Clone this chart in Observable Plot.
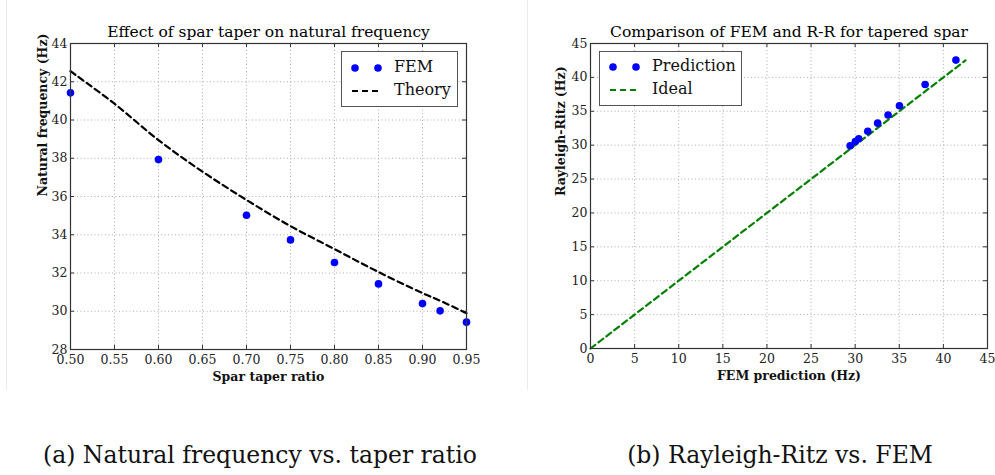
<!DOCTYPE html>
<html>
<head>
<meta charset="utf-8">
<script src="https://cdn.jsdelivr.net/npm/d3@7"></script>
<script src="https://cdn.jsdelivr.net/npm/@observablehq/plot@0.6"></script>
<style>
  html, body { margin: 0; padding: 0; background: #fff; }
  #page { position: relative; width: 995px; height: 475px; overflow: hidden; font-family: "DejaVu Serif", "Liberation Serif", serif; }
  .panel { position: absolute; top: 0; }
  .caption { position: absolute; font-size: 23.5px; color: #111; white-space: nowrap; transform: translate(-50%, -50%); }
  .edge { position: absolute; width: 1px; background: #ebebeb; }
  .legend { position: absolute; border: 1.3px solid #555; background: #fff; font-size: 16px; color: #111; }
  .legend .row { position: absolute; left: 0; white-space: nowrap; }
  .legend svg { position: absolute; }
</style>
</head>
<body>
<div id="page">
  <div class="edge" style="left:6px; top:0; height:390px"></div>
  <div class="edge" style="left:527px; top:0; height:390px"></div>
  <div class="panel" id="left" style="left:0"></div>
  <div class="panel" id="right" style="left:497px"></div>
  <div class="caption" style="left:260px; top:455px">(a) Natural frequency vs. taper ratio</div>
  <div class="caption" style="left:780px; top:455px">(b) Rayleigh-Ritz vs. FEM</div>
</div>
<script>
// ---- Data ----
const taper = [0.50, 0.60, 0.70, 0.75, 0.80, 0.85, 0.90, 0.92, 0.95];
const femFreq = [41.42, 37.93, 35.02, 33.73, 32.55, 31.43, 30.40, 30.02, 29.43];
const theoryTaper = [0.50, 0.55, 0.60, 0.65, 0.70, 0.75, 0.80, 0.85, 0.90, 0.92, 0.95];
const theoryFreq = [42.55, 40.85, 38.95, 37.30, 35.82, 34.45, 33.25, 32.05, 30.95, 30.55, 29.90];
const rrFreq = [42.55, 38.95, 35.82, 34.45, 33.25, 32.05, 30.95, 30.55, 29.90];
const idealRange = [0, 42.5];

const xTicksA = [0.50, 0.55, 0.60, 0.65, 0.70, 0.75, 0.80, 0.85, 0.90, 0.95];
const yTicksA = [28, 30, 32, 34, 36, 38, 40, 42, 44];
const ticksB = [0, 5, 10, 15, 20, 25, 30, 35, 40, 45];

const titleA = "Effect of spar taper on natural frequency";
const titleB = "Comparison of FEM and R-R for tapered spar";
const xLabelA = "Spar taper ratio";
const yLabelA = "Natural frequency (Hz)";
const xLabelB = "FEM prediction (Hz)";
const yLabelB = "Rayleigh-Ritz (Hz)";
const legendA = ["FEM", "Theory"];
const legendB = ["Prediction", "Ideal"];

// ---- Tables ----
const femTable = taper.map((t, i) => ({taper: t, freq: femFreq[i]}));
const theoryTable = theoryTaper.map((t, i) => ({taper: t, freq: theoryFreq[i]}));
const predTable = femFreq.map((f, i) => ({fem: f, rr: rrFreq[i]}));
const idealTable = idealRange.map(v => ({fem: v, rr: v}));

const FONT = "'DejaVu Serif', 'Liberation Serif', serif";
const BLUE = "#0000ff";
const GREEN = "#008000";
const GRID = {stroke: "#9a9a9a", strokeOpacity: 1, strokeWidth: 0.8, strokeDasharray: "1,2.5"};
const TICK = 4;

function chrome({W, H, ml, mr, mt, mb, xt, yt, xfmt, yfmt, title, xlab, ylab, ylabDx}) {
  const pw = W - ml - mr, ph = H - mt - mb;
  return [
    Plot.gridX(xt, {x: d => d, ...GRID}),
    Plot.gridY(yt, {y: d => d, ...GRID}),
    Plot.tickX(xt, {x: d => d, stroke: "#333", insetTop: ph - TICK}),
    Plot.tickX(xt, {x: d => d, stroke: "#333", insetBottom: ph - TICK}),
    Plot.tickY(yt, {y: d => d, stroke: "#333", insetLeft: pw - TICK}),
    Plot.tickY(yt, {y: d => d, stroke: "#333", insetRight: pw - TICK}),
    Plot.axisX(xt, {tickSize: 0, tickPadding: 6, tickFormat: xfmt, label: null, fontSize: 12.5, fill: "#222"}),
    Plot.axisY(yt, {tickSize: 0, tickPadding: 3, tickFormat: yfmt, label: null, fontSize: 12.5, fill: "#222"}),
    Plot.text([title], {frameAnchor: "top", dy: -11, fontSize: 15.5, fill: "#000", lineAnchor: "middle"}),
    Plot.text([xlab], {frameAnchor: "bottom", dy: 27, fontSize: 12.5, fontWeight: "bold", fill: "#111", lineAnchor: "middle"}),
    Plot.text([ylab], {frameAnchor: "left", dx: ylabDx, rotate: -90, fontSize: 12.5, fontWeight: "bold", fill: "#111", lineAnchor: "middle"})
  ];
}

// ---- Left chart ----
const WA = 497, HA = 395;
const left = Plot.plot({
  width: WA, height: HA,
  marginLeft: 70, marginRight: 31, marginTop: 43, marginBottom: 46,
  style: {fontFamily: FONT, background: "transparent", overflow: "visible"},
  x: {domain: [0.50, 0.95]},
  y: {domain: [28, 44]},
  marks: [
    ...chrome({W: WA, H: HA, ml: 70, mr: 31, mt: 43, mb: 46, xt: xTicksA, yt: yTicksA,
      xfmt: d3.format(".2f"), yfmt: d3.format("d"), title: titleA, xlab: xLabelA, ylab: yLabelA, ylabDx: -28}),
    Plot.line(theoryTable, {x: "taper", y: "freq", stroke: "#000", strokeWidth: 2.2, strokeDasharray: "6,4", curve: "catmull-rom"}),
    Plot.dot(femTable, {x: "taper", y: "freq", r: 3.8, fill: BLUE, stroke: "none", clip: false}),
    Plot.frame({stroke: "#333", strokeWidth: 1.2})
  ]
});
document.getElementById("left").append(left);

// ---- Right chart ----
const WB = 498, HB = 395;
const right = Plot.plot({
  width: WB, height: HB,
  marginLeft: 93, marginRight: 8, marginTop: 43, marginBottom: 47,
  style: {fontFamily: FONT, background: "transparent", overflow: "visible"},
  x: {domain: [0, 45]},
  y: {domain: [0, 45]},
  marks: [
    ...chrome({W: WB, H: HB, ml: 93, mr: 8, mt: 43, mb: 47, xt: ticksB, yt: ticksB,
      xfmt: d3.format("d"), yfmt: d3.format("d"), title: titleB, xlab: xLabelB, ylab: yLabelB, ylabDx: -30}),
    Plot.line(idealTable, {x: "fem", y: "rr", stroke: GREEN, strokeWidth: 2.2, strokeDasharray: "6,4"}),
    Plot.dot(predTable, {x: "fem", y: "rr", r: 3.8, fill: BLUE, stroke: "none"}),
    Plot.frame({stroke: "#333", strokeWidth: 1.2})
  ]
});
document.getElementById("right").append(right);

// ---- Legends (HTML overlays) ----
function legend(parent, box, labels, lineColor) {
  const div = document.createElement("div");
  div.className = "legend";
  Object.assign(div.style, {left: box.x + "px", top: box.y + "px", width: box.w + "px", height: box.h + "px"});
  const rows = [box.h * 0.29, box.h * 0.72];
  const s1 = `<svg width="40" height="12" style="left:6px; top:${rows[0] - 6}px"><circle cx="7" cy="6" r="3.8" fill="${BLUE}"/><circle cx="30" cy="6" r="3.8" fill="${BLUE}"/></svg>`;
  const s2 = `<svg width="40" height="12" style="left:6px; top:${rows[1] - 6}px"><line x1="4" x2="32" y1="6" y2="6" stroke="${lineColor}" stroke-width="2.2" stroke-dasharray="6,4"/></svg>`;
  div.innerHTML = s1 + s2 +
    `<div class="row" style="left:52px; top:${rows[0] - 11}px">${labels[0]}</div>` +
    `<div class="row" style="left:52px; top:${rows[1] - 11}px">${labels[1]}</div>`;
  parent.append(div);
}
const page = document.getElementById("page");
legend(page, {x: 341, y: 51, w: 115, h: 54}, legendA, "#000");
legend(page, {x: 599, y: 51, w: 141, h: 53}, legendB, GREEN);
</script>
</body>
</html>
